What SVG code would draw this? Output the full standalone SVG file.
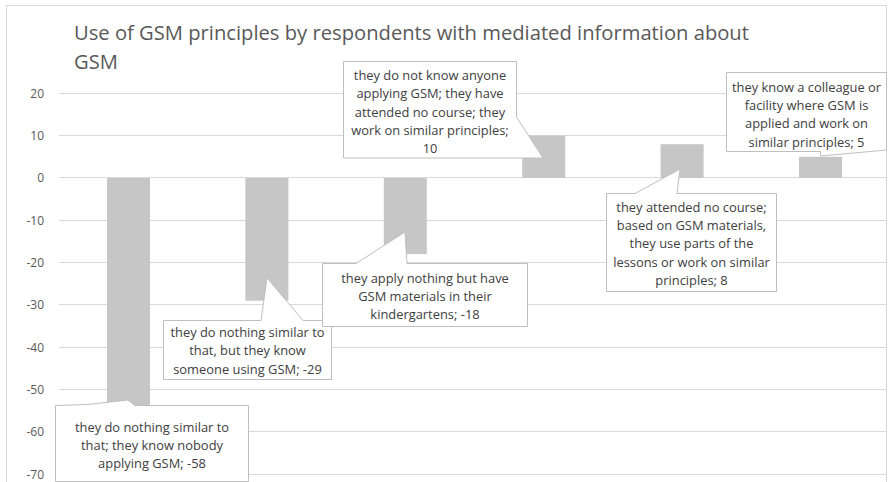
<svg xmlns="http://www.w3.org/2000/svg" width="893" height="482" viewBox="0 0 893 482">
<style>
.grid{stroke:#d9d9d9;stroke-width:1;fill:none}
.bar{fill:#c6c6c6}
.ax{font-family:"Open Sans",sans-serif;font-size:12px;fill:#595959;text-anchor:end}
.title{font-family:"Open Sans",sans-serif;font-size:20.2px;fill:#595959}
.co{fill:#ffffff;stroke:#bfbfbf;stroke-width:1}
.ct{font-family:"Open Sans",sans-serif;font-size:12.9px;fill:#404040;text-anchor:middle}
</style>
<rect x="0" y="0" width="893" height="482" fill="#ffffff"/>
<rect x="6.5" y="5.5" width="880" height="490" fill="#ffffff" stroke="#d9d9d9"/>
<g id="title">
<text class="title" x="74" y="40">Use of GSM principles by respondents with mediated information about</text>
<text class="title" x="74" y="69">GSM</text>
</g>
<g id="axis">
<line class="grid" x1="59" y1="93.5" x2="886" y2="93.5"/>
<line class="grid" x1="59" y1="135.5" x2="886" y2="135.5"/>
<line class="grid" x1="59" y1="177.5" x2="886" y2="177.5"/>
<line class="grid" x1="59" y1="220.5" x2="886" y2="220.5"/>
<line class="grid" x1="59" y1="262.5" x2="886" y2="262.5"/>
<line class="grid" x1="59" y1="304.5" x2="886" y2="304.5"/>
<line class="grid" x1="59" y1="347.5" x2="886" y2="347.5"/>
<line class="grid" x1="59" y1="389.5" x2="886" y2="389.5"/>
<line class="grid" x1="59" y1="431.5" x2="886" y2="431.5"/>
<line class="grid" x1="59" y1="474.5" x2="886" y2="474.5"/>
<text class="ax" x="44" y="97.5">20</text>
<text class="ax" x="44" y="139.5">10</text>
<text class="ax" x="44" y="181.5">0</text>
<text class="ax" x="44" y="224.5">-10</text>
<text class="ax" x="44" y="266.5">-20</text>
<text class="ax" x="44" y="308.5">-30</text>
<text class="ax" x="44" y="351.5">-40</text>
<text class="ax" x="44" y="393.5">-50</text>
<text class="ax" x="44" y="435.5">-60</text>
<text class="ax" x="44" y="478.5">-70</text>
</g>
<g id="bars">
<rect class="bar" x="107" y="178" width="43" height="245.3"/>
<rect class="bar" x="245.4" y="178" width="43" height="122.7"/>
<rect class="bar" x="383.8" y="178" width="43" height="76.1"/>
<rect class="bar" x="522.2" y="135.7" width="43" height="42.3"/>
<rect class="bar" x="660.6" y="144.2" width="43" height="33.8"/>
<rect class="bar" x="799" y="156.8" width="43" height="21.2"/>
</g>
<g id="connectors"></g>
<g id="label1">
<path class="co" d="M55.5,405.5 L87,404.5 L128,400 L135,405.5 L248.5,405.5 L248.5,481.5 L55.5,481.5 Z"/>
<text class="ct" x="152" y="431.5">they do nothing similar to</text>
<text class="ct" x="152" y="449.5">that; they know nobody</text>
<text class="ct" x="152" y="467.5">applying GSM; -58</text>
</g>
<g id="label2">
<path class="co" d="M163.5,320.5 L261,320.5 L267,278 L303,320.5 L331.5,320.5 L331.5,379.5 L163.5,379.5 Z"/>
<text class="ct" x="247.5" y="336.5">they do nothing similar to</text>
<text class="ct" x="247.5" y="354.5">that, but they know</text>
<text class="ct" x="247.5" y="373.5">someone using GSM; -29</text>
</g>
<g id="label3">
<path class="co" d="M322.5,263.5 L356,263.5 L405,232 L407,263.5 L527.5,263.5 L527.5,326.5 L322.5,326.5 Z"/>
<text class="ct" x="425" y="282.5">they apply nothing but have</text>
<text class="ct" x="425" y="300.5">GSM materials in their</text>
<text class="ct" x="425" y="318.5">kindergartens; -18</text>
</g>
<g id="label4">
<path class="co" d="M343.5,61.5 L516.5,61.5 L516.5,117 L543,158 L343.5,158 Z"/>
<text class="ct" x="430" y="79.5">they do not know anyone</text>
<text class="ct" x="430" y="97.5">applying GSM; they have</text>
<text class="ct" x="430" y="116.5">attended no course; they</text>
<text class="ct" x="430" y="134.5">work on similar principles;</text>
<text class="ct" x="430" y="152.5">10</text>
</g>
<g id="label5">
<path class="co" d="M606.5,193.5 L635,193.5 L680,169 L677,193.5 L776.5,193.5 L776.5,291.5 L606.5,291.5 Z"/>
<text class="ct" x="691.5" y="211.5">they attended no course;</text>
<text class="ct" x="691.5" y="229.5">based on GSM materials,</text>
<text class="ct" x="691.5" y="247.5">they use parts of the</text>
<text class="ct" x="691.5" y="266.5">lessons or work on similar</text>
<text class="ct" x="691.5" y="284.5">principles; 8</text>
</g>
<g id="label6">
<path class="co" d="M726.5,72.5 L886.5,72.5 L886.5,150 L820.5,156 L820.5,151.5 L726.5,151.5 Z"/>
<text class="ct" x="806.5" y="91.5">they know a colleague or</text>
<text class="ct" x="806.5" y="109.5">facility where GSM is</text>
<text class="ct" x="806.5" y="127.5">applied and work on</text>
<text class="ct" x="806.5" y="146.5">similar principles; 5</text>
</g>
</svg>
